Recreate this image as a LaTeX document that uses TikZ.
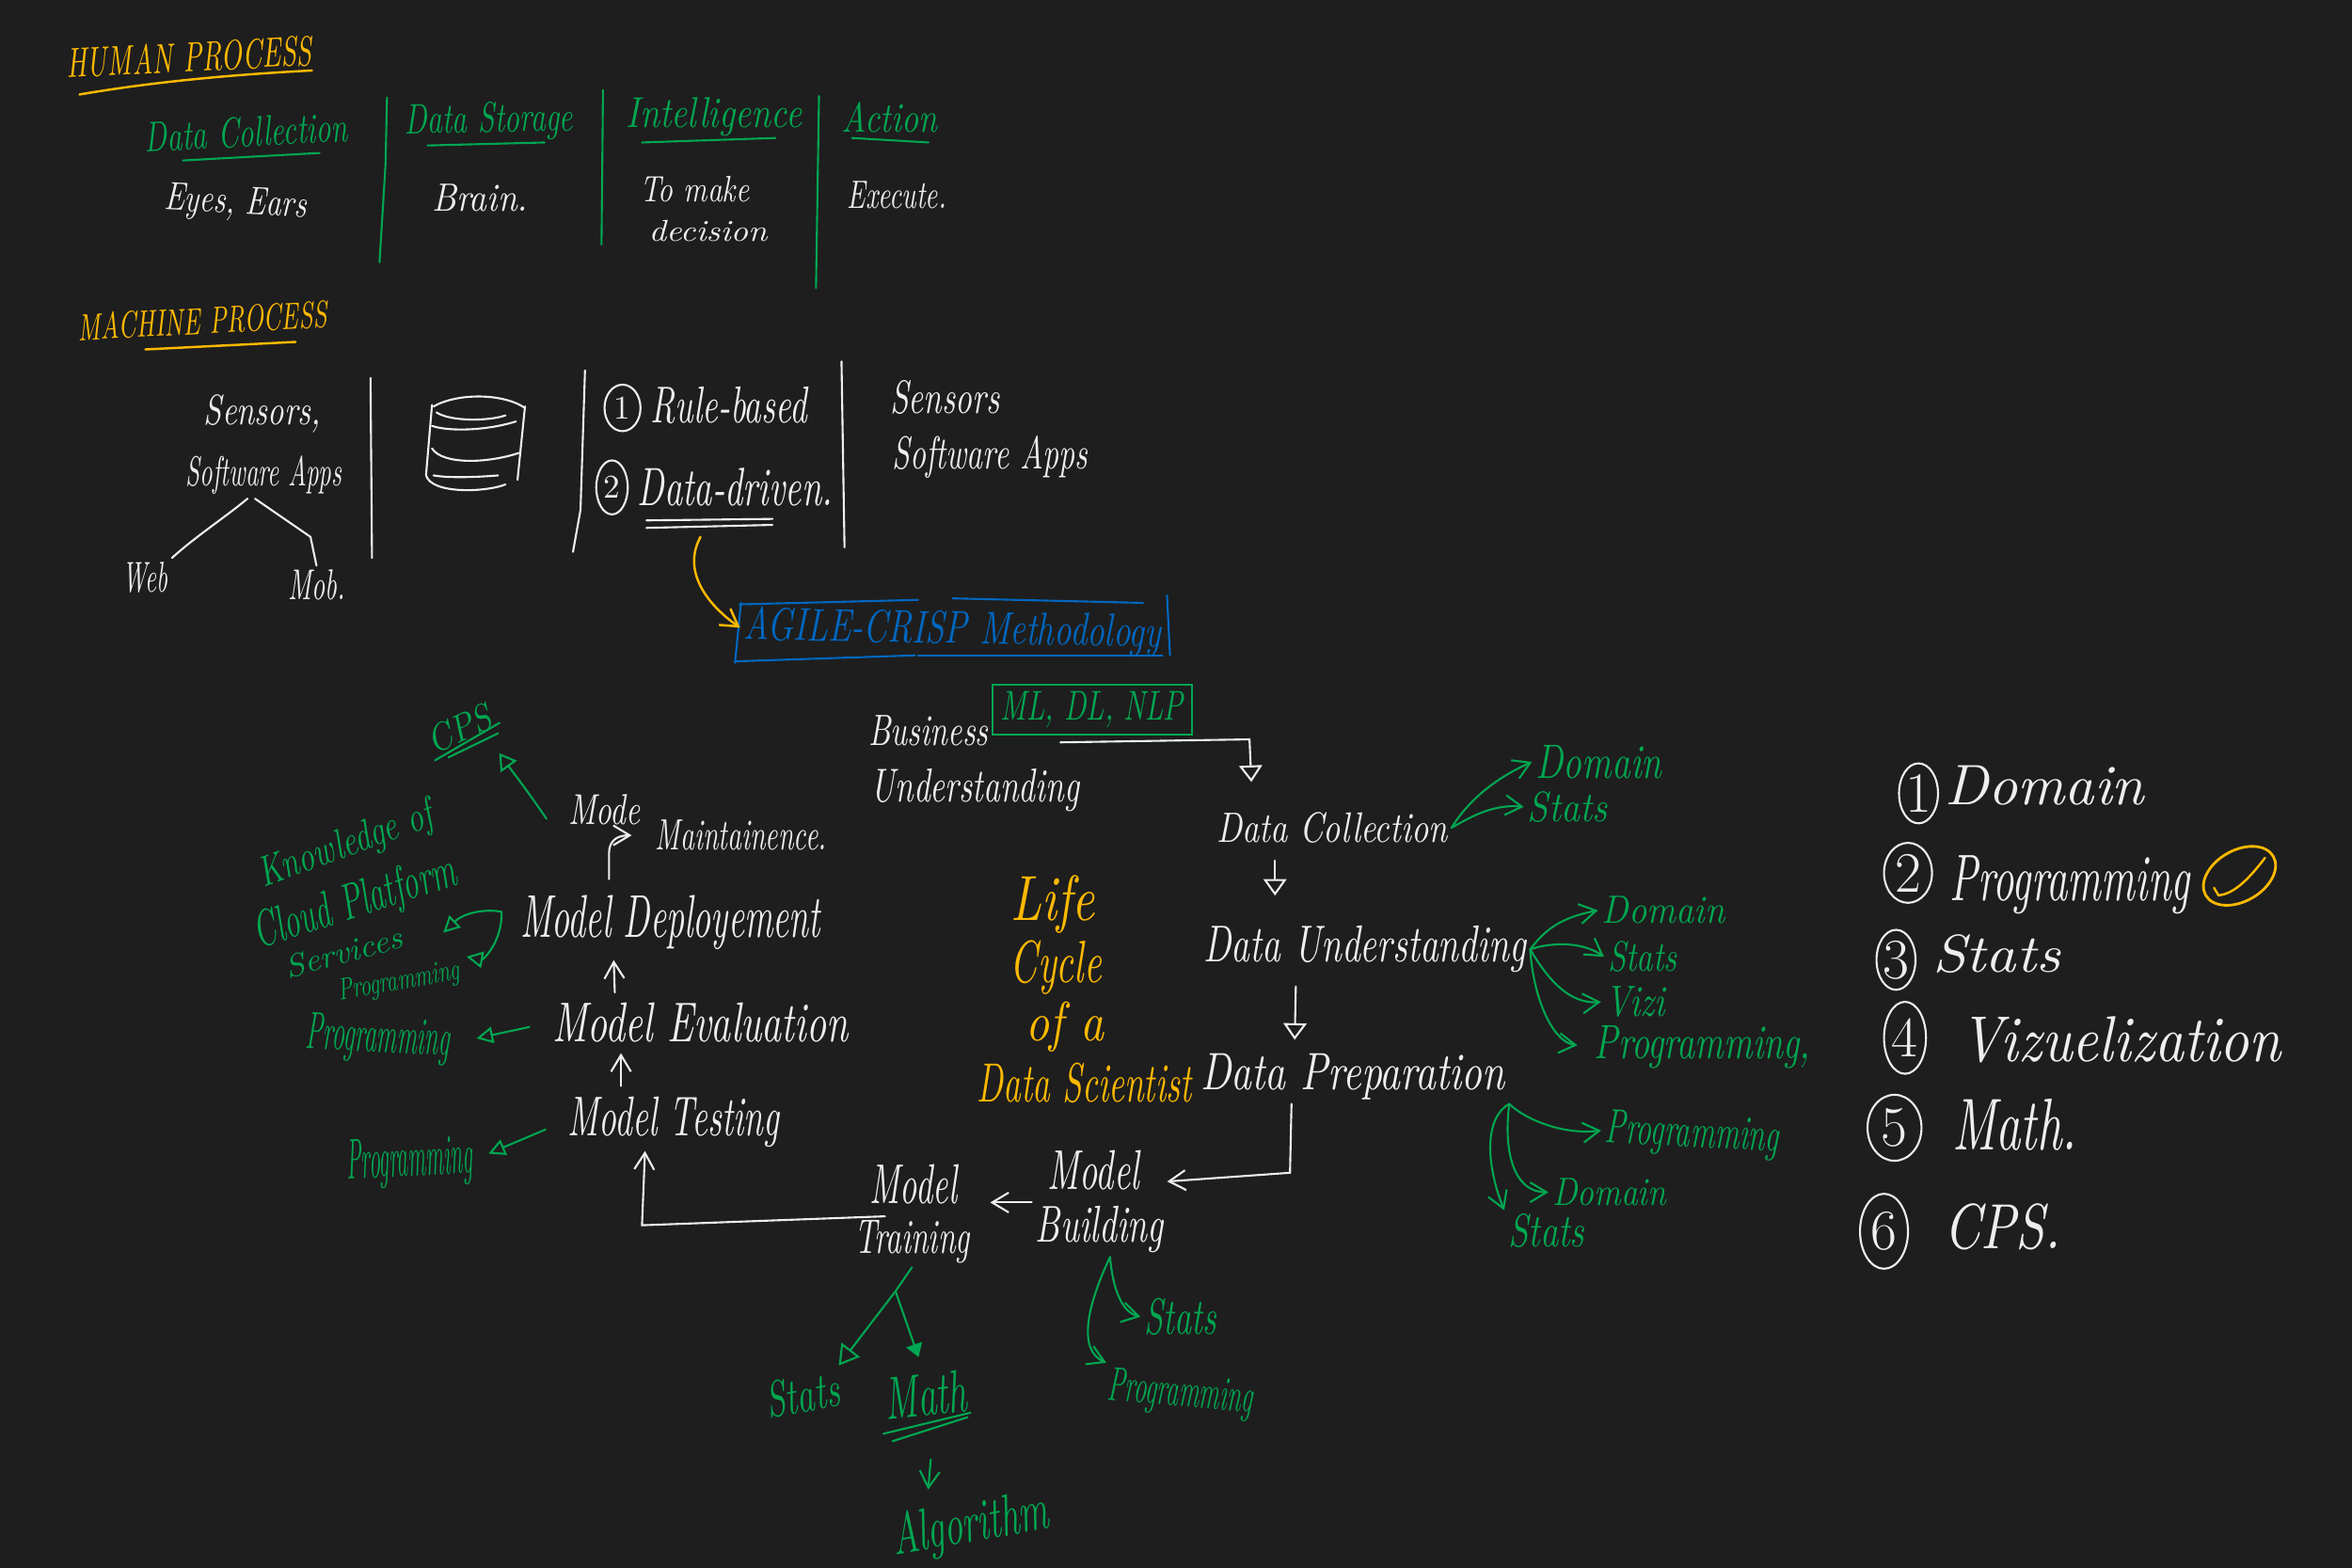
\documentclass[tikz,border=0pt]{standalone}
\usepackage{graphicx}
\usetikzlibrary{arrows.meta,shapes.geometric}
\definecolor{boardbg}{HTML}{1E1E1E}
\definecolor{chalkwhite}{HTML}{EEEEEE}
\definecolor{chalkgreen}{HTML}{00A651}
\definecolor{chalkyellow}{HTML}{FFB900}
\definecolor{chalkblue}{HTML}{0067C0}
\newdimen\hu
\hu=0.015944cm
\newcommand{\handw}[3]{\resizebox{#1\hu}{#2\hu}{#3}}
\tikzset{
    whitetext/.style={text=chalkwhite,font=\itshape,inner sep=1pt},
    greentext/.style={text=chalkgreen,font=\itshape,inner sep=1pt},
    yellowtext/.style={text=chalkyellow,font=\itshape,inner sep=1pt},
    bluetext/.style={text=chalkblue,font=\itshape,inner sep=1pt},
    whiteline/.style={draw=chalkwhite,line width=0.6pt,line cap=round},
    greenline/.style={draw=chalkgreen,line width=0.6pt,line cap=round},
    yellowline/.style={draw=chalkyellow,line width=0.7pt,line cap=round},
    blueline/.style={draw=chalkblue,line width=0.6pt,line cap=round},
    numbadge/.style={ellipse,draw=chalkwhite,text=chalkwhite,line width=0.6pt,inner sep=0pt},
    >={Straight Barb[length=5pt,width=6pt]},
}
\begin{document}
\begin{tikzpicture}[x=0.015944cm,y=-0.015944cm]
    \fill[boardbg] (0,0) rectangle (1568,1045.5);
    \useasboundingbox (0,0) rectangle (1568,1045.5);
    % human process
    \node[yellowtext,rotate=3] (humanHead) at (126,38) {\handw{164}{20}{HUMAN PROCESS}};
    \draw[yellowline] (53,63) .. controls (100,55) and (150,50) .. (208,47);
    \node[greentext,rotate=3] (humanCollect) at (164,88) {\handw{135}{20}{Data Collection}};
    \draw[greenline] (122,107) -- (213,102);
    \node[greentext,rotate=1] (humanStore) at (326,81) {\handw{112}{20}{Data Storage}};
    \draw[greenline] (285,97) -- (363,95);
    \node[greentext] (humanIntel) at (476,78) {\handw{117}{20}{Intelligence}};
    \draw[greenline] (428,95) -- (517,92);
    \node[greentext] (humanAction) at (593,78) {\handw{64}{20}{Action}};
    \draw[greenline] (568,92) -- (619,95);
    \draw[greenline] (258,65) -- (257,110) -- (253,175);
    \draw[greenline] (402,60) -- (401,163);
    \draw[greenline] (546,64) -- (544,192);
    \node[whitetext,rotate=-3] (humanEyes) at (157,136) {\handw{95}{18}{Eyes, Ears}};
    \node[whitetext] (humanBrain) at (320,132) {\handw{64}{18}{Brain.}};
    \node[whitetext] (humanMake) at (463,126) {\handw{73}{17}{To make}};
    \node[whitetext] (humanDecide) at (472,154) {\handw{79}{14}{decision}};
    \node[whitetext] (humanExec) at (598,130) {\handw{66}{18}{Execute.}};
    % machine process
    \node[yellowtext,rotate=3] (machineHead) at (135,214) {\handw{166}{18}{MACHINE PROCESS}};
    \draw[yellowline] (97,233) -- (197,228);
    \node[whitetext] (sensorsA) at (175,276) {\handw{78}{20}{Sensors,}};
    \node[whitetext] (softApps) at (176,317) {\handw{104}{20}{Software Apps}};
    \node[whitetext] (web) at (97,385) {\handw{30}{20}{Web}};
    \node[whitetext] (mob) at (211,390) {\handw{38}{20}{Mob.}};
    \coordinate (mobBend) at (207,358);
    \draw[whiteline] ([xshift=-11\hu]softApps.south) .. controls (150,345) and (130,358) .. (web.north east);
    \draw[whiteline] ([xshift=-6\hu]softApps.south) -- (mobBend) -- (mob.north);
    \draw[whiteline] (247,252) -- (248,372);
    \draw[whiteline] (390,247) -- (387,340) -- (382,368);
    \draw[whiteline] (561,241) -- (563,365);
    % storage drum
    \draw[whiteline] (289,271) .. controls (305,262) and (335,262) .. (350,272);
    \draw[whiteline] (291,275) .. controls (300,281) and (325,281) .. (337,277);
    \draw[whiteline] (288,284) .. controls (300,288) and (325,287) .. (344,281);
    \draw[whiteline] (288,299) .. controls (295,310) and (325,309) .. (346,302);
    \draw[whiteline] (289,317) .. controls (300,319) and (320,318) .. (332,317);
    \draw[whiteline] (284,317) .. controls (288,330) and (325,328) .. (337,323);
    \draw[whiteline] (288,270) -- (284,317);
    \draw[whiteline] (350,271) -- (345,320);
    % rule based, data driven
    \node[numbadge,minimum width=24\hu,minimum height=31\hu] (ruleNum) at (415,272) {1};
    \node[whitetext] (ruleBased) at (486,270) {\handw{104}{24}{Rule-based}};
    \node[numbadge,minimum width=21\hu,minimum height=36\hu] (dataNum) at (408,325) {2};
    \node[whitetext] (dataDriven) at (490,325) {\handw{130}{25}{Data-driven.}};
    \draw[whiteline] (431,347) -- (515,346);
    \draw[whiteline] (431,352) -- (515,350);
    \node[whitetext] (sensorsB) at (630,265) {\handw{73}{22}{Sensors}};
    \node[whitetext] (softAppsB) at (660,305) {\handw{130}{22}{Software Apps}};
    % methodology box
    \node[bluetext,rotate=-1] (agile) at (635,421) {\handw{278}{22}{AGILE-CRISP Methodology}};
    \draw[blueline] (493,403) -- (612,400);
    \draw[blueline] (635,399) -- (762,402);
    \draw[blueline] (494,402) -- (490,442);
    \draw[blueline] (778,397) -- (780,437);
    \draw[blueline] (490,441) -- (610,437);
    \draw[blueline] (612,437) -- (775,437);
    \coordinate (yellowStart) at (467,358);
    \draw[yellowline,->] (yellowStart) .. controls (455,380) and (470,402) .. (agile.west);
    % life cycle, right side going down
    \node[whitetext] (business) at (619,487) {\handw{80}{20}{Business}};
    \node[whitetext] (understand) at (650,527) {\handw{139}{22}{Understanding}};
    \node[greentext,draw=chalkgreen,line width=0.6pt,inner sep=2pt,minimum width=133\hu,minimum height=27\hu] (mlBox) at (728,473) {\handw{122}{19}{ML, DL, NLP}};
    \node[whitetext] (dataColl) at (888,552) {\handw{154}{20}{Data Collection}};
    \node[whitetext] (dataUnd) at (910,633) {\handw{215}{24}{Data Understanding}};
    \node[whitetext] (dataPrep) at (902,718) {\handw{203}{24}{Data Preparation}};
    \node[whitetext] (modelB) at (729,780) {\handw{61}{26}{Model}};
    \node[whitetext] (building) at (733,820) {\handw{85}{24}{Building}};
    \node[whitetext] (modelT) at (609,790) {\handw{58}{26}{Model}};
    \node[whitetext] (training) at (608,828) {\handw{77}{22}{Training}};
    \node[whitetext] (testing) at (449,748) {\handw{141}{26}{Model Testing}};
    \node[whitetext] (evaluation) at (467,682) {\handw{197}{26}{Model Evaluation}};
    \node[whitetext] (deploy) at (447,615) {\handw{200}{28}{Model Deployement}};
    \node[whitetext] (modeWord) at (403,540) {\handw{48}{20}{Mode}};
    \node[whitetext] (maintain) at (494,557) {\handw{114}{20}{Maintainence.}};
    \coordinate (bizStart) at (707,495);
    \coordinate (bizCorner) at (833,493);
    \draw[whiteline,-{Triangle[open,length=5pt,width=7pt]},shorten >=8pt] (bizStart) -- (bizCorner) -- ([xshift=-53\hu]dataColl.north);
    \draw[whiteline,-{Triangle[open,length=5pt,width=7pt]},shorten <=4pt,shorten >=8pt] ([xshift=-38\hu]dataColl.south) -- ([xshift=-60\hu]dataUnd.north);
    \draw[whiteline,-{Triangle[open,length=5pt,width=7pt]},shorten <=3pt,shorten >=3pt] ([xshift=-46\hu]dataUnd.south) -- ([xshift=-39\hu]dataPrep.north);
    \coordinate (prepCorner) at (860,782);
    \draw[whiteline,->] ([xshift=-41\hu]dataPrep.south) -- (prepCorner) -- ([yshift=14\hu]building.north east);
    \draw[whiteline,->,shorten >=5pt] (building.north west) -- (training.east |- building.north west);
    \coordinate (trainCorner) at (428,817);
    \draw[whiteline,->] ([xshift=-18\hu]training.north) -- (trainCorner) -- ([xshift=-19\hu]testing.south);
    \draw[whiteline,->,shorten <=2pt,shorten >=2pt] ([xshift=-35\hu]testing.north) -- ([xshift=-53\hu]evaluation.south);
    \draw[whiteline,->,shorten <=2pt,shorten >=2pt] ([xshift=-57\hu]evaluation.north) -- ([xshift=-38\hu]deploy.south);
    \coordinate (deployBend) at (406,569);
    \draw[whiteline,->,shorten >=6pt] ([xshift=-41\hu,yshift=8\hu]deploy.north) -- (deployBend) .. controls (406,560) and (412,557) .. (maintain.west);
    % life cycle title
    \node[yellowtext] (lifeWord) at (702,603) {\handw{56}{30}{Life}};
    \node[yellowtext] (cycleWord) at (704,645) {\handw{61}{28}{Cycle}};
    \node[yellowtext] (ofWord) at (710,685) {\handw{52}{26}{of a}};
    \node[yellowtext] (scientist) at (723,722) {\handw{143}{26}{Data Scientist}};
    % green notes, right side
    \node[greentext] (domainA) at (1066,508) {\handw{84}{22}{Domain}};
    \node[greentext] (statsA) at (1045,538) {\handw{53}{20}{Stats}};
    \draw[greenline,->] (dataColl.east) .. controls (975,540) and (990,522) .. (domainA.west);
    \draw[greenline,->] (dataColl.east) .. controls (980,545) and (995,536) .. (statsA.west);
    \node[greentext] (domainB) at (1109,607) {\handw{82}{18}{Domain}};
    \node[greentext] (statsB) at (1095,638) {\handw{46}{20}{Stats}};
    \node[greentext] (viziB) at (1090,668) {\handw{40}{20}{Vizi}};
    \node[greentext] (progB) at (1135,698) {\handw{144}{22}{Programming,}};
    \draw[greenline,->] (dataUnd.east) .. controls (1030,620) and (1040,612) .. (domainB.west);
    \draw[greenline,->] (dataUnd.east) .. controls (1035,628) and (1055,628) .. (statsB.west);
    \draw[greenline,->] (dataUnd.east) .. controls (1030,650) and (1045,670) .. (viziB.west);
    \draw[greenline,->,shorten >=4pt] (dataUnd.east) .. controls (1022,665) and (1035,695) .. (progB.west);
    \node[greentext,rotate=-3] (progC) at (1128,757) {\handw{116}{22}{Programming}};
    \node[greentext] (domainC) at (1073,795) {\handw{76}{18}{Domain}};
    \node[greentext] (statsC) at (1031,821) {\handw{51}{22}{Stats}};
    \draw[greenline,->] (dataPrep.south east) .. controls (1015,745) and (1040,757) .. (progC.west);
    \draw[greenline,->] (dataPrep.south east) .. controls (1002,770) and (1010,795) .. (domainC.west);
    \draw[greenline,->] (dataPrep.south east) .. controls (990,745) and (990,775) .. (statsC.north west);
    \node[greentext] (statsD) at (787,878) {\handw{48}{24}{Stats}};
    \node[greentext,rotate=-5] (progD) at (787,930) {\handw{97}{22}{Programming}};
    \draw[greenline,->] ([xshift=7\hu]building.south) .. controls (742,860) and (748,875) .. (statsD.west);
    \draw[greenline,->] ([xshift=7\hu]building.south) .. controls (725,870) and (718,900) .. (progD.north west);
    % green notes, bottom
    \node[greentext,rotate=10] (statsE) at (535,930) {\handw{49}{24}{Stats}};
    \node[greentext,rotate=6] (mathE) at (617,930) {\handw{55}{28}{Math}};
    \draw[greenline] (589,956) -- (647,942);
    \draw[greenline] (595,961) -- (645,945);
    \node[greentext,rotate=10] (algorithm) at (647,1018) {\handw{105}{28}{Algorithm}};
    \coordinate (trainSplit) at (597,861);
    \draw[greenline,-{Triangle[open,length=6pt,width=7pt]}] (training.south) -- (trainSplit) -- (statsE.north east);
    \draw[greenline,-{Triangle[length=4pt,width=5pt]},shorten >=4pt] (trainSplit) -- (mathE.north);
    \draw[greenline,->,shorten <=12pt,shorten >=2pt] ([xshift=4\hu]mathE.south) -- ([xshift=-25\hu]algorithm.north);
    % green notes, left side
    \node[greentext,rotate=25] (cpsGreen) at (306,486) {\handw{45}{18}{CPS}};
    \draw[greenline] (290,507) -- (333,482);
    \draw[greenline] (299,505) -- (332,489);
    \draw[greenline,-{Triangle[open,length=5pt,width=6pt]}] (modeWord.west) ++(-12\hu,-6\hu) .. controls (350,525) and (342,515) .. ([xshift=-1\hu,yshift=-16\hu]cpsGreen.south east);
    \node[greentext,rotate=20] (knowledge) at (231,564) {\handw{122}{20}{Knowledge of}};
    \node[greentext,rotate=18] (cloud) at (237,603) {\handw{140}{24}{Cloud Platform}};
    \node[greentext,rotate=15] (services) at (229,635) {\handw{80}{15}{Services}};
    \node[greentext,rotate=10] (progF) at (266,655) {\handw{82}{14}{Programming}};
    \node[greentext,rotate=-3] (progG) at (252,693) {\handw{96}{24}{Programming}};
    \node[greentext,rotate=3] (progH) at (273,775) {\handw{84}{26}{Programming}};
    \draw[greenline,-{Triangle[open,length=5pt,width=5pt]}] (deploy.west) ++(-10\hu,7\hu) .. controls (325,606) and (310,608) .. ([xshift=28\hu,yshift=-8\hu]services.north east);
    \draw[greenline,-{Triangle[open,length=5pt,width=5pt]}] (deploy.west) ++(-10\hu,7\hu) .. controls (335,628) and (322,640) .. ([xshift=4\hu,yshift=-2\hu]progF.north east);
    \draw[greenline,-{Triangle[open,length=5pt,width=5pt]},shorten <=6pt,shorten >=7pt] (evaluation.west) -- (progG.east);
    \draw[greenline,-{Triangle[open,length=5pt,width=5pt]},shorten <=6pt,shorten >=4pt] (testing.west) -- (progH.east);
    % list on the right
    \node[numbadge,font=\LARGE,minimum width=26\hu,minimum height=40\hu] (listOne) at (1279,529) {1};
    \node[whitetext] (listDomain) at (1363,524) {\handw{133}{26}{Domain}};
    \node[numbadge,font=\LARGE,minimum width=32\hu,minimum height=40\hu] (listTwo) at (1272,582) {2};
    \node[whitetext] (listProg) at (1380,590) {\handw{160}{30}{Programming}};
    \node[numbadge,font=\LARGE,minimum width=26\hu,minimum height=40\hu] (listThree) at (1264,640) {3};
    \node[whitetext] (listStats) at (1331,636) {\handw{85}{25}{Stats}};
    \node[numbadge,font=\LARGE,minimum width=28\hu,minimum height=48\hu] (listFour) at (1270,692) {4};
    \node[whitetext] (listViz) at (1414,693) {\handw{214}{30}{Vizuelization}};
    \node[numbadge,font=\LARGE,minimum width=36\hu,minimum height=44\hu] (listFive) at (1263,752) {5};
    \node[whitetext] (listMath) at (1343,750) {\handw{83}{34}{Math.}};
    \node[numbadge,font=\LARGE,minimum width=32\hu,minimum height=50\hu] (listSix) at (1256,821) {6};
    \node[whitetext] (listCps) at (1335,818) {\handw{78}{30}{CPS.}};
    \node[ellipse,draw=chalkyellow,line width=0.8pt,minimum width=52\hu,minimum height=34\hu,inner sep=0pt,rotate=30] (doneMark) at (1493,584) {};
    \draw[yellowline] (1476,592) -- (1479,597) .. controls (1490,596) and (1500,585) .. (1510,572);
\end{tikzpicture}
\end{document}
